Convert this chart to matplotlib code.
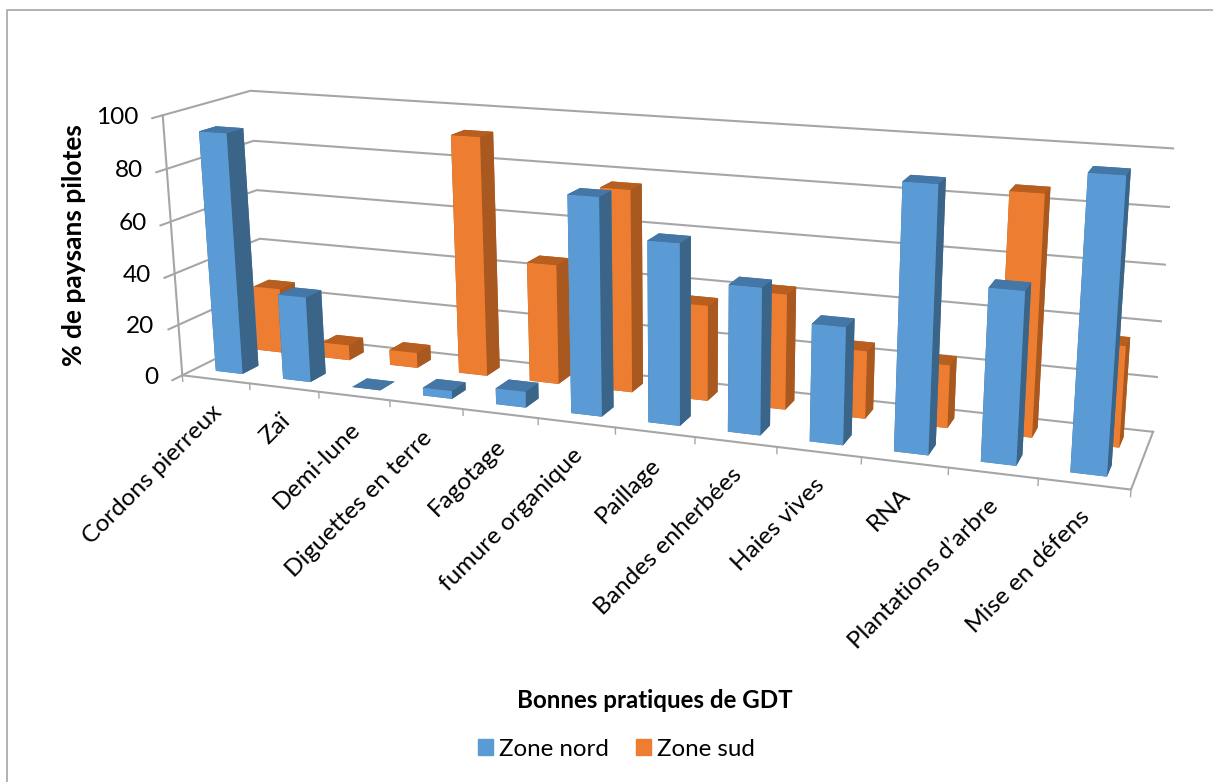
import numpy as np
import matplotlib
matplotlib.use('Agg')
import matplotlib.pyplot as plt
from matplotlib.lines import Line2D
from matplotlib.patches import Patch

plt.rcParams['font.family'] = ['Lato', 'DejaVu Sans']

W, H = 1213, 782

categories = ['Cordons pierreux', 'Zaï', 'Demi-lune', 'Diguettes en terre', 'Fagotage',
              'fumure organique', 'Paillage', 'Bandes enherbées', 'Haies vives', 'RNA',
              "Plantations d’arbre", 'Mise en défens']
zone_nord = [93, 33, 0, 3, 6, 80, 66, 53, 42, 93, 60, 100]
zone_sud = [26, 6, 6, 92, 46, 76.5, 36, 43, 25, 23, 86, 36]
y_ticks = [0, 20, 40, 60, 80, 100]

BLUE = ['#4477A6', '#4477A6', '#5B9BD5', '#4477A6', '#3B6588', '#3B6588']
ORANGE = ['#B85F1F', '#B85F1F', '#ED7D31', '#B85F1F', '#A9591F', '#A9591F']
GRID = '#A6A6A6'

# chart box corners (category, series, value) and where they land on the page
box_world = np.array([[0, 0, 0], [0, 0, 100], [0, 2, 0], [0, 2, 40], [0, 2, 100],
                      [12, 2, 0], [12, 2, 40], [12, 2, 100], [12, 0, 0]], float)
box_page = np.array([[182, 376], [163, 115], [267, 333], [258, 239], [251, 91],
                     [1153, 432], [1161, 322], [1173, 148], [1131, 489]], float)


def fit_camera(world, page):
    rows = []
    for (x, y, z), (u, v) in zip(world, page):
        rows.append([x, y, z, 1, 0, 0, 0, 0, -u * x, -u * y, -u * z, -u])
        rows.append([0, 0, 0, 0, x, y, z, 1, -v * x, -v * y, -v * z, -v])
    p = np.linalg.svd(np.array(rows))[2][-1].reshape(3, 4)
    return p if p[2] @ [6, 1, 50, 1] > 0 else -p


cam = fit_camera(box_world, box_page)


def to_page(x, y, z):
    u, v, w = cam @ [x, y, z, 1]
    return u / w, v / w


fig = plt.figure(figsize=(W / 100, H / 100), dpi=100)
# chart frame, cut off by the page on the right and at the bottom
fig.add_artist(Line2D([7 / W, 7 / W, 1], [0, 1 - 10 / H, 1 - 10 / H], color=GRID, linewidth=1.2))

# 3d axes are always square, so let this one overflow the page vertically
ax = fig.add_axes([0, (H - W) / 2 / H, 1, W / H], projection='3d', computed_zorder=False)
ax.set_axis_off()

n = len(categories)
for v in y_ticks:
    ax.plot([0, 0, 12], [-0.22, 2, 2], [v, v, v], color=GRID, lw=1.5, zorder=1)
ax.plot([0, 0], [0, 0], [0, 100], color=GRID, lw=1.5, zorder=1)
ax.plot([0, 12, 12], [0, 0, 2], [0, 0, 0], color=GRID, lw=1.5, zorder=1)
for i in range(n + 1):
    ax.plot([i, i], [0, 0], [0, -2.4], color=GRID, lw=1, zorder=1)

xs = np.arange(n) + 0.3
ax.bar3d(xs, np.full(n, 1.31), np.zeros(n), 0.4, 0.38, zone_sud, color=ORANGE * n,
         shade=False, linewidth=0, zorder=2)
ax.bar3d(xs, np.full(n, 0.31), np.zeros(n), 0.4, 0.38, zone_nord, color=BLUE * n,
         shade=False, linewidth=0, zorder=3)

# page pixels -> the axes' own 2d view range
x0, x1 = ax.viewLim.intervalx
y0, y1 = ax.viewLim.intervaly
page_to_view = np.array([[(x1 - x0) / W, 0, x0],
                         [0, -(y1 - y0) / W, y1 - (y1 - y0) * (W - H) / 2 / W],
                         [0, 0, 1]])
view = page_to_view @ cam
M = np.vstack([view[0], view[1], [0, 0, 0, -1], view[2]])
ax.get_proj = lambda: M

for i, label in enumerate(categories):
    u, v = to_page(i + 0.5, 0, 0)
    fig.text((u - 5) / W, 1 - (v + 22) / H, label, rotation=45, ha='right', va='top',
             rotation_mode='anchor', fontsize=17.6, color='black')
for v in y_ticks:
    u, w = to_page(0, 0, v)
    fig.text((u - 24) / W, 1 - (w + 2) / H, str(v), ha='right', va='center', fontsize=17.6)

fig.text(74 / W, 1 - 245 / H, '% de paysans pilotes', rotation=90, ha='center', va='center',
         fontsize=19, fontweight='bold')
fig.text(655 / W, 1 - 700 / H, 'Bonnes pratiques de GDT', ha='center', va='center',
         fontsize=17.4, fontweight='bold')

fig.legend(handles=[Patch(color='#5B9BD5', label='Zone nord'), Patch(color='#ED7D31', label='Zone sud')],
           loc='center', bbox_to_anchor=(616.5 / W, 1 - 749 / H), ncol=2, frameon=False, fontsize=17.4,
           handlelength=0.62, handleheight=0.62, handletextpad=0.25, columnspacing=1.15)

fig.savefig('out.png', dpi=100)
